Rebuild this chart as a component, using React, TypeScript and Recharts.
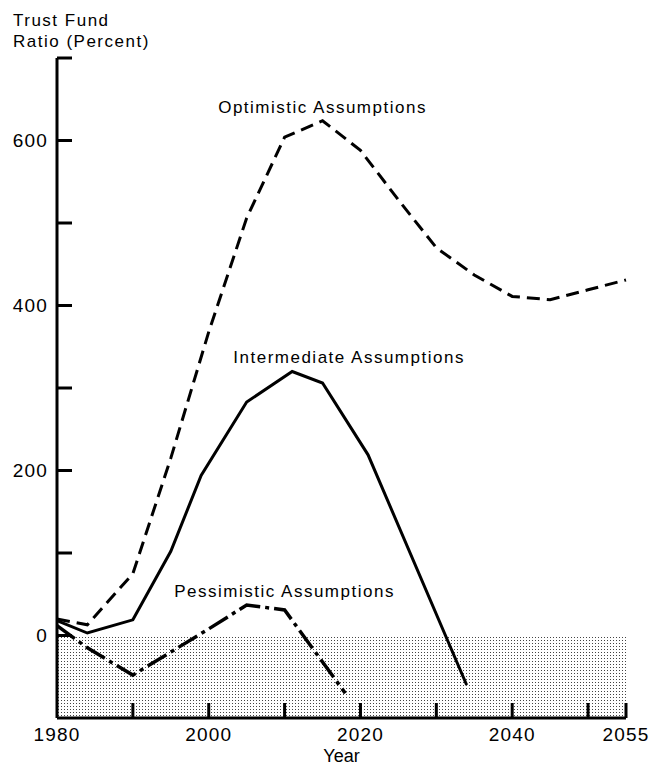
import { LineChart, Line, XAxis, YAxis, ReferenceArea, ReferenceDot } from 'recharts';

// (trust fund ratio, percent)
const optimisticYears = [1980, 1984, 1990, 1995, 2000, 2005, 2010, 2015, 2020, 2025, 2030, 2035, 2040, 2045, 2050, 2055];
const optimisticValues = [20, 13, 75, 215, 368, 506, 604, 624, 588, 528, 470, 437, 411, 407, 419, 431];

const intermediateYears = [1980, 1984, 1990, 1995, 1999, 2005, 2011, 2015, 2021, 2034];
const intermediateValues = [18, 3, 19, 102, 194, 283, 320, 306, 219, -60];

const pessimisticYears = [1980, 1984, 1990, 1995, 2000, 2005, 2010, 2018];
const pessimisticValues = [12, -15, -48, -20, 8, 37, 31, -70];

const yTicks = [-100, 0, 100, 200, 300, 400, 500, 600, 700];
const yTickLabels = [0, 200, 400, 600];
const xTicks = [1980, 1990, 2000, 2010, 2020, 2030, 2040, 2050, 2055];
const xTickLabels = [1980, 2000, 2020, 2040, 2055];

const seriesNames = ['Optimistic Assumptions', 'Intermediate Assumptions', 'Pessimistic Assumptions'];
// where each series name sits, in chart units (year, percent)
const namePositions = [
  [2015, 641],
  [2018.5, 338],
  [2010, 54],
];

const toPoints = (years: number[], values: number[]) =>
  years.map((year, i) => ({ year, value: values[i] }));

const optimistic = toPoints(optimisticYears, optimisticValues);
const intermediate = toPoints(intermediateYears, intermediateValues);
const pessimistic = toPoints(pessimisticYears, pessimisticValues);

const FONT = '"Liberation Sans", Arial, Helvetica, sans-serif';

const YTick = ({ x, y, payload }: any) => {
  const v = payload.value;
  const axisX = x + 9;
  return (
    <g>
      {v > -100 && <line x1={axisX} x2={axisX + 15} y1={y} y2={y} stroke="#000" strokeWidth={3} />}
      {yTickLabels.includes(v) && (
        <text x={x} y={y} dy="0.36em" textAnchor="end" fontSize={19} letterSpacing={1.2} fill="#000">
          {v}
        </text>
      )}
    </g>
  );
};

const XTick = ({ x, y, payload }: any) => {
  const v = payload.value;
  const axisY = y - 10;
  return (
    <g>
      {v > 1980 && <line x1={x} x2={x} y1={axisY} y2={axisY - 15} stroke="#000" strokeWidth={3} />}
      {xTickLabels.includes(v) && (
        <text x={x} y={y} dy="0.71em" textAnchor="middle" fontSize={19} letterSpacing={1.2} fill="#000">
          {v}
        </text>
      )}
    </g>
  );
};

const seriesName = (text: string) => (props: any) => (
  <text x={props.cx} y={props.cy} dy="0.36em" textAnchor="middle" fontSize={17} letterSpacing={1.5} fill="#000">
    {text}
  </text>
);

export default function App() {
  return (
    <div style={{ position: 'relative', width: 652, height: 767, fontFamily: FONT, background: '#fff' }}>
      <style>{'body{margin:0}'}</style>
      <div
        style={{
          position: 'absolute',
          left: 13,
          top: 10,
          fontSize: 17,
          lineHeight: '21px',
          letterSpacing: 1.5,
          color: '#000',
        }}
      >
        Trust Fund
        <br />
        Ratio (Percent)
      </div>
      <LineChart width={652} height={767} margin={{ top: 58, right: 26, bottom: 0, left: 0 }}>
        <defs>
          <pattern id="stipple" x="0" y="0" width="3" height="3" patternUnits="userSpaceOnUse">
            <rect x="1" y="1" width="1" height="1" fill="#444" />
          </pattern>
        </defs>
        <XAxis
          dataKey="year"
          type="number"
          domain={[1980, 2055]}
          ticks={xTicks}
          interval={0}
          tickSize={0}
          tickMargin={10}
          tickLine={false}
          tick={<XTick />}
          height={49}
          axisLine={{ stroke: '#000', strokeWidth: 3 }}
          label={{ value: 'Year', position: 'insideBottom', offset: 5, fontSize: 18, fill: '#000' }}
        />
        <YAxis
          type="number"
          domain={[-100, 700]}
          ticks={yTicks}
          interval={0}
          tickSize={0}
          tickMargin={9}
          tickLine={false}
          tick={<YTick />}
          width={57}
          axisLine={{ stroke: '#000', strokeWidth: 3 }}
        />
        <ReferenceArea x1={1980} x2={2055} y1={-100} y2={0} fill="url(#stipple)" fillOpacity={1} stroke="none" />
        <Line
          data={optimistic}
          dataKey="value"
          type="linear"
          stroke="#000"
          strokeWidth={3}
          strokeDasharray="13 7"
          dot={false}
          isAnimationActive={false}
        />
        <Line
          data={intermediate}
          dataKey="value"
          type="linear"
          stroke="#000"
          strokeWidth={3}
          dot={false}
          isAnimationActive={false}
        />
        <Line
          data={pessimistic}
          dataKey="value"
          type="linear"
          stroke="#000"
          strokeWidth={3.5}
          strokeDasharray="22 5 4 5"
          dot={false}
          isAnimationActive={false}
        />
        {seriesNames.map((name, i) => (
          <ReferenceDot
            key={name}
            x={namePositions[i][0]}
            y={namePositions[i][1]}
            r={0}
            shape={seriesName(name)}
          />
        ))}
      </LineChart>
    </div>
  );
}
